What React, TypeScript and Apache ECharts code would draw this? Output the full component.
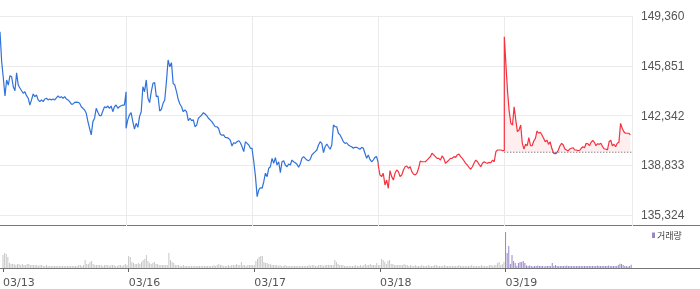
import React, { useEffect, useRef } from "react";
import * as echarts from "echarts";

const dates = ["03/13", "03/16", "03/17", "03/18", "03/19"];
const yTicks = [135324, 138833, 142342, 145851, 149360];
const prevClose = 139750;

const price0313 = [148250, 146140, 144990, 143720, 144850, 144490, 145150, 145080, 144370, 144090, 145360, 144490, 144280, 144090, 143910, 144020, 143740, 143560, 143080, 143440, 143860, 143670, 143790, 143440, 143320, 143440, 143320, 143510, 143560, 143440, 143510, 143440, 143510, 143440, 143580, 143720, 143600, 143670, 143560, 143670, 143510, 143440, 143320, 143150, 143150, 143270, 143290, 143270, 143200, 142960, 142850, 142730, 142500, 141910, 141440, 140970, 141910, 142150, 142850, 142570, 142330, 142330, 142660, 142960, 142890, 143010, 142850, 143010, 142610, 142960, 143080, 142850, 142960, 143030, 143080, 143080, 144020];
const price0316 = [141440, 142030, 142380, 142540, 141910, 141390, 141790, 141510, 142260, 142610, 144370, 144020, 144850, 143560, 143250, 144020, 144610, 144660, 143670, 143720, 142660, 142780, 143200, 143440, 144730, 146260, 145780, 146070, 144610, 144490, 144020, 143490, 143150, 142960, 142610, 142730, 142610, 141980, 142150, 141980, 142030, 141550, 141670, 142150, 142260, 142380, 142540, 142450, 142330, 142150, 142030, 141910, 141740, 141550, 141550, 141440, 141040, 140950, 140970, 140800, 140780, 140730, 140610, 140190, 140420, 140380, 140490, 140570, 140420, 140140, 139790, 140490, 140380, 140260, 140030, 140030];
const price0317 = [139910, 139080, 138030, 136620, 137090, 137250, 137210, 137670, 138270, 138030, 138620, 138730, 139320, 138970, 139370, 138850, 139080, 138310, 139080, 139150, 138850, 138730, 138920, 138850, 139200, 139080, 139010, 138900, 138690, 138920, 139320, 139440, 139320, 139200, 139150, 139250, 139560, 139680, 139790, 139910, 140260, 140490, 140380, 139720, 140140, 140330, 140140, 139960, 140260, 141670, 141550, 141550, 141090, 140970, 140730, 140490, 140380, 140420, 140260, 140190, 140140, 140030, 140100, 140100, 140030, 139960, 140100, 140030, 139680, 139320, 139560, 139250, 139080, 139200, 139390, 139440, 139010];
const price0318 = [138850, 138150, 138030, 138270, 137440, 137790, 137210, 138450, 138030, 137790, 138270, 138500, 138380, 138030, 138150, 138500, 138730, 138780, 138620, 138730, 138380, 138200, 138150, 138270, 138620, 139130, 139080, 139080, 139080, 139200, 139320, 139440, 139680, 139560, 139440, 139320, 139320, 139200, 139490, 139320, 138970, 139080, 139200, 139320, 139320, 139440, 139390, 139560, 139630, 139440, 139320, 139150, 138970, 138850, 138690, 138550, 138730, 138970, 139200, 139080, 138900, 138730, 138970, 139080, 139010, 138970, 139040, 139010, 139200, 139080, 139790, 139910, 139910, 139910, 139860, 139860];
const price0319 = [147900, 145900, 144020, 142610, 141790, 141670, 142960, 142030, 141200, 141320, 141670, 140380, 139980, 140310, 140210, 140780, 140210, 140210, 140540, 140730, 141250, 141090, 141160, 140970, 140730, 140490, 140610, 140310, 140490, 140030, 139720, 139650, 139700, 139910, 140210, 140380, 140260, 139980, 139910, 139840, 139980, 140030, 140070, 139910, 139910, 139860, 139890, 140030, 140140, 140070, 140380, 140350, 140210, 140450, 140590, 140450, 140210, 140350, 140310, 140380, 140140, 139980, 139980, 139910, 140490, 140610, 140210, 140310, 140140, 140380, 140450, 141790, 141440, 141200, 141090, 141090, 141090, 140970];

const vol0313 = [13, 15, 14, 11, 5, 4, 4, 4, 3, 4, 4, 3, 4, 3, 3, 4, 4, 3, 3, 3, 3, 3, 2, 3, 3, 2, 2, 3, 2, 2, 2, 2, 2, 2, 2, 2, 2, 2, 2, 2, 2, 2, 2, 2, 2, 2, 2, 3, 3, 2, 3, 8, 4, 4, 6, 7, 4, 3, 3, 3, 3, 3, 2, 3, 3, 3, 2, 3, 3, 3, 2, 2, 3, 3, 2, 3, 4, 3];
const vol0316 = [12, 11, 6, 5, 4, 4, 5, 4, 6, 8, 9, 13, 7, 5, 4, 5, 6, 4, 4, 3, 3, 3, 3, 3, 3, 15, 8, 6, 5, 3, 3, 3, 2, 2, 3, 2, 2, 2, 2, 2, 2, 2, 2, 2, 2, 2, 2, 2, 2, 2, 2, 2, 2, 3, 2, 3, 4, 3, 3, 2, 2, 2, 3, 2, 3, 3, 3, 4, 3, 3, 6, 3, 3, 2, 3, 3, 3, 3];
const vol0317 = [3, 7, 9, 11, 12, 12, 6, 5, 5, 4, 4, 3, 3, 3, 3, 2, 3, 2, 2, 3, 2, 2, 2, 2, 2, 2, 2, 2, 2, 2, 2, 2, 2, 2, 3, 2, 3, 3, 2, 2, 3, 3, 3, 2, 3, 3, 3, 3, 3, 3, 8, 6, 4, 3, 3, 3, 2, 2, 2, 2, 2, 2, 2, 3, 2, 2, 3, 2, 3, 4, 3, 3, 4, 3, 3, 3, 5, 3];
const vol0318 = [3, 9, 8, 6, 4, 7, 8, 4, 4, 3, 3, 3, 3, 3, 3, 4, 3, 3, 2, 3, 2, 2, 3, 2, 2, 2, 3, 2, 2, 2, 3, 2, 2, 2, 3, 3, 2, 2, 2, 2, 3, 2, 2, 2, 2, 2, 2, 2, 2, 3, 2, 2, 2, 2, 2, 2, 2, 3, 2, 2, 2, 2, 2, 3, 2, 2, 2, 2, 3, 3, 2, 3, 3, 5, 6, 3, 4, 6];
const vol0319 = [36, 15, 22, 4, 13, 7, 5, 2, 5, 6, 6, 7, 5, 2.5, 2, 2.5, 2, 1.5, 2, 2, 2.5, 2, 2, 2, 1.5, 2, 2, 2, 2, 5, 2, 3, 2, 2, 2, 2, 2, 2, 2.5, 2, 2, 2, 2, 2, 2, 2, 2, 2, 2, 2, 2, 2, 2, 2, 2, 2, 2, 2.5, 2, 2, 2, 2, 2, 2, 2.5, 2, 2, 2, 2, 2, 3, 4.3, 4, 3, 2, 2, 1.5, 2, 3.3];

const SLOTS = 78;
const TOTAL = 391;

function dayPoints(d: number, arr: number[]) {
  return arr.map((v, i) => [d * SLOTS + (i * SLOTS) / (arr.length - 1), v]);
}

export default function App() {
  const ref = useRef<HTMLDivElement>(null);
  useEffect(() => {
    if (!ref.current) return;
    const chart = echarts.init(ref.current, null, { renderer: "svg" });
    const blue = [...dayPoints(0, price0313), ...dayPoints(1, price0316), ...dayPoints(2, price0317)];
    const red18 = [blue[blue.length - 1], ...dayPoints(3, price0318)];
    const pts19 = dayPoints(4, price0319);
    const s19 = [red18[red18.length - 1], ...pts19];
    // portion of 03/19 trading below the previous close, drawn in blue
    const below19 = pts19.map((p) => (p[1] < prevClose ? p : [p[0], null]));
    const grayVol = [...vol0313, ...vol0316, ...vol0317, ...vol0318].map((v, i) => [i, v]);
    const purpleVol = vol0319.map((v, i) => [4 * SLOTS + i, v]);
    const cats = Array.from({ length: TOTAL }, (_, i) => String(i));
    const dayStart = (i: number) => i % SLOTS === 0 && i < 5 * SLOTS;
    const BLUE = "#3172d9";
    const RED = "#f4333f";

    chart.setOption({
      animation: false,
      grid: [
        { left: 0, top: 16, width: 632, height: 199 },
        { left: 0, top: 16, width: 632, height: 210 },
        { left: 0, top: 226, width: 632, height: 42 },
      ],
      xAxis: [
        { type: "value", gridIndex: 0, min: 0, max: TOTAL, show: false },
        {
          type: "category",
          gridIndex: 1,
          data: cats,
          boundaryGap: true,
          axisLine: { show: false },
          axisTick: { show: false },
          axisLabel: { show: false },
          splitLine: {
            show: true,
            interval: (i: number) => i > 0 && dayStart(i),
            lineStyle: { color: "#ebebeb" },
          },
        },
        {
          type: "category",
          gridIndex: 2,
          data: cats,
          boundaryGap: true,
          axisLine: { show: false },
          axisTick: {
            show: true,
            length: 4,
            alignWithLabel: true,
            interval: (i: number) => dayStart(i),
            lineStyle: { color: "#666" },
          },
          axisLabel: {
            interval: (i: number) => dayStart(i),
            formatter: (_v: string, i: number) => dates[i / SLOTS] || "",
            align: "left",
            margin: 9,
            color: "#555",
            fontSize: 11,
            fontFamily: "DejaVu Sans",
          },
          splitLine: { show: false },
        },
      ],
      yAxis: [
        {
          type: "value",
          gridIndex: 0,
          position: "right",
          min: yTicks[0],
          max: yTicks[yTicks.length - 1],
          interval: yTicks[1] - yTicks[0],
          axisLine: { show: false },
          axisTick: { show: false },
          axisLabel: {
            margin: 9,
            color: "#555",
            fontSize: 12,
            fontFamily: "Liberation Sans",
            formatter: (v: number) => Math.round(v).toLocaleString("en-US"),
          },
          splitLine: { show: true, lineStyle: { color: "#ebebeb" } },
        },
        { type: "value", gridIndex: 1, min: 0, max: 1, show: false },
        { type: "value", gridIndex: 2, min: 0, max: 42, show: false },
      ],
      series: [
        {
          type: "line",
          xAxisIndex: 0,
          yAxisIndex: 0,
          data: blue,
          symbol: "none",
          lineStyle: { color: BLUE, width: 1.2 },
          z: 3,
        },
        {
          type: "line",
          xAxisIndex: 0,
          yAxisIndex: 0,
          data: red18,
          symbol: "none",
          lineStyle: { color: RED, width: 1.2 },
          z: 3,
        },
        {
          type: "line",
          xAxisIndex: 0,
          yAxisIndex: 0,
          data: s19,
          symbol: "none",
          lineStyle: { color: RED, width: 1.2 },
          areaStyle: { origin: prevClose, color: "rgba(245, 70, 85, 0.13)" },
          z: 3,
        },
        {
          type: "line",
          xAxisIndex: 0,
          yAxisIndex: 0,
          data: below19,
          symbol: "none",
          connectNulls: false,
          lineStyle: { color: BLUE, width: 1.2 },
          z: 4,
        },
        {
          type: "line",
          xAxisIndex: 0,
          yAxisIndex: 0,
          data: [
            [4 * SLOTS, prevClose],
            [TOTAL, prevClose],
          ],
          symbol: "none",
          lineStyle: { color: "#555", type: [1, 2], width: 1 },
          z: 3,
        },
        {
          type: "bar",
          xAxisIndex: 2,
          yAxisIndex: 2,
          data: grayVol,
          barWidth: 1,
          barGap: "-100%",
          itemStyle: { color: "#c6c6c6" },
        },
        {
          type: "bar",
          xAxisIndex: 2,
          yAxisIndex: 2,
          data: purpleVol,
          barWidth: 1,
          barGap: "-100%",
          itemStyle: { color: "#9886c9" },
        },
      ],
      graphic: [
        { type: "line", shape: { x1: 0, y1: 225.5, x2: 700, y2: 225.5 }, style: { stroke: "#777", lineWidth: 1 } },
        { type: "line", shape: { x1: 0, y1: 268.5, x2: 700, y2: 268.5 }, style: { stroke: "#777", lineWidth: 1 } },
        { type: "rect", shape: { x: 652, y: 232.5, width: 3, height: 5.5 }, style: { fill: "#9886c9" } },
        {
          type: "text",
          x: 657,
          y: 235.5,
          style: {
            text: "거래량",
            fontSize: 9,
            fontFamily: "Noto Sans CJK KR",
            fill: "#444",
            verticalAlign: "middle",
          },
        },
      ],
    });
    return () => chart.dispose();
  }, []);
  return <div ref={ref} style={{ position: "fixed", left: 0, top: 0, width: 700, height: 289 }} />;
}
